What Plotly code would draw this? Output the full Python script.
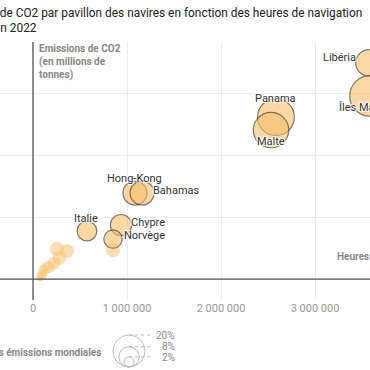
import plotly.graph_objects as go

# ---------------- data ----------------
flags = ["Libéria", "Îles Marshall", "Panama", "Malte", "Hong-Kong", "Bahamas",
         "Italie", "Chypre", "Norvège"]
hours = [3574000, 3585000, 2585000, 2532000, 1085000, 1160000, 574000, 936000, 851000]
emissions = [139.4, 118.1, 104.5, 96.1, 55.5, 55.5, 31.0, 34.8, 25.8]
share = [6.8, 16.0, 13.2, 12.2, 5.6, 5.6, 3.8, 4.4, 3.3]

other_hours = [851000, 255000, 362000, 280000, 223000, 162000, 117000, 96000, 75000]
other_emissions = [18.7, 19.4, 18.1, 13.5, 10.3, 7.7, 5.8, 2.6, 1.3]
other_share = [1.95, 1.95, 1.95, 1.8, 1.6, 1.5, 1.25, 0.96, 0.7]

x_ticks = [0, 1000000, 2000000, 3000000]
y_ticks = [0, 40, 80, 120]
legend_shares = [20, 8, 2]

# label placement (pixel offsets from bubble centre)
label_pos = {
    "Libéria": dict(xanchor="right", xshift=-11, yshift=5),
    "Îles Marshall": dict(xanchor="center", xshift=0, yshift=-12),
    "Panama": dict(xanchor="center", xshift=0, yshift=19),
    "Malte": dict(xanchor="center", xshift=0, yshift=-11),
    "Hong-Kong": dict(xanchor="center", xshift=0, yshift=15),
    "Bahamas": dict(xanchor="left", xshift=9, yshift=3),
    "Italie": dict(xanchor="center", xshift=-1, yshift=13),
    "Chypre": dict(xanchor="left", xshift=8, yshift=3),
    "Norvège": dict(xanchor="left", xshift=9, yshift=4),
}

W, H = 370, 370
ML, MR, MT, MB = 0, 0, 42, 70
PW, PH = W - ML - MR, H - MT - MB

def px(xp):
    return (xp - ML) / PW

def py(yp):
    return (H - MB - yp) / PH

FONT = "Roboto"
SIZEREF = 1 / 51.3  # diameter = 7.16*sqrt(share)
halo = "1px 1px 1px #fff, -1px -1px 1px #fff, 1px -1px 1px #fff, -1px 1px 1px #fff, 0px 0px 2px #fff"

fig = go.Figure()
fig.add_trace(go.Scatter(
    x=other_hours, y=other_emissions, mode="markers",
    marker=dict(size=other_share, sizemode="area", sizeref=SIZEREF,
                color="rgba(246,190,105,0.72)", line=dict(width=0)),
    hoverinfo="skip", showlegend=False, cliponaxis=False))
fig.add_trace(go.Scatter(
    x=hours, y=emissions, mode="markers", text=flags,
    marker=dict(size=share, sizemode="area", sizeref=SIZEREF,
                color="rgba(246,190,105,0.85)",
                line=dict(width=1.2, color="#4d3e28")),
    showlegend=False, cliponaxis=True))

ann = []
for f, xv, yv in zip(flags, hours, emissions):
    p = label_pos[f]
    ann.append(dict(x=xv, y=yv, xref="x", yref="y", text=f, showarrow=False,
                    xanchor=p["xanchor"], yanchor="middle",
                    xshift=p["xshift"], yshift=p["yshift"],
                    font=dict(family=FONT, size=11, color="#333", shadow=halo)))

# title (partially outside the visible frame)
ann.append(dict(x=px(362.5), y=py(12), xref="paper", yref="paper",
                text="Émissions de CO2 par pavillon des navires en fonction des heures de navigation",
                showarrow=False, xanchor="right", yanchor="middle", borderpad=0,
                font=dict(family=FONT, size=11.9, color="#222")))
ann.append(dict(x=px(-7), y=py(28), xref="paper", yref="paper",
                text="en 2022", showarrow=False, xanchor="left", yanchor="middle",
                borderpad=0,
                font=dict(family=FONT, size=11.9, color="#222")))

# axis titles
ann.append(dict(x=px(37), y=py(41), xref="paper", yref="paper",
                text="<b>Emissions de CO2<br>(en millions de<br>tonnes)</b>",
                showarrow=False, xanchor="left", yanchor="top", align="left",
                font=dict(family=FONT, size=10, color="#888")))
ann.append(dict(x=px(335), y=py(256), xref="paper", yref="paper",
                text="<b>Heures de navigation</b>",
                showarrow=False, xanchor="left", yanchor="middle",
                font=dict(family=FONT, size=10, color="#888")))

# size legend
ann.append(dict(x=px(103), y=py(352), xref="paper", yref="paper",
                text="<b>Part des émissions mondiales</b>", showarrow=False,
                xanchor="right", yanchor="middle",
                font=dict(family=FONT, size=10, color="#888")))
shapes = []
cx, base = 129, 367
label_y = {20: 335, 8: 346.5, 2: 357}
for s in legend_shares:
    r = 3.58 * s ** 0.5
    shapes.append(dict(type="circle", xref="paper", yref="paper",
                       x0=px(cx - r), x1=px(cx + r), y0=py(base), y1=py(base - 2 * r),
                       line=dict(color="#bbb", width=1), fillcolor="rgba(0,0,0,0)"))
    top = base - 2 * r
    shapes.append(dict(type="line", xref="paper", yref="paper",
                       x0=px(cx), x1=px(153), y0=py(top), y1=py(top),
                       line=dict(color="#bbb", width=1, dash="dot")))
    ann.append(dict(x=px(176), y=py(label_y[s]), xref="paper", yref="paper",
                    text=f"{s}%", showarrow=False, xanchor="right", yanchor="middle",
                    borderpad=0,
                    font=dict(family=FONT, size=10, color="#888")))

fig.update_layout(
    width=W, height=H, margin=dict(l=ML, r=MR, t=MT, b=MB),
    paper_bgcolor="white", plot_bgcolor="white",
    separators=", ",
    font=dict(family=FONT),
    annotations=ann, shapes=shapes,
    xaxis=dict(range=[-351064, 3585106], tickvals=x_ticks, tickformat=",d",
               showgrid=True, gridcolor="#ececec", gridwidth=1,
               zeroline=False, showline=False, ticks="",
               tickfont=dict(family=FONT, size=11, color="#999")),
    yaxis=dict(range=[-13.5, 152.9], tickvals=y_ticks, showticklabels=False,
               showgrid=True, gridcolor="#ececec", gridwidth=1,
               zeroline=False, showline=False, ticks=""),
)
# zero lines drawn as data-space lines
fig.add_shape(type="line", xref="x", yref="paper", x0=0, x1=0, y0=0, y1=1,
              line=dict(color="#555", width=1.3), layer="above")
fig.add_shape(type="line", xref="paper", yref="y", x0=0, x1=1, y0=0, y1=0,
              line=dict(color="#555", width=1.3), layer="above")

fig.write_html("out.html", config={"displayModeBar": False},
               post_script="document.body.style.margin='0';document.body.style.overflow='hidden';")
